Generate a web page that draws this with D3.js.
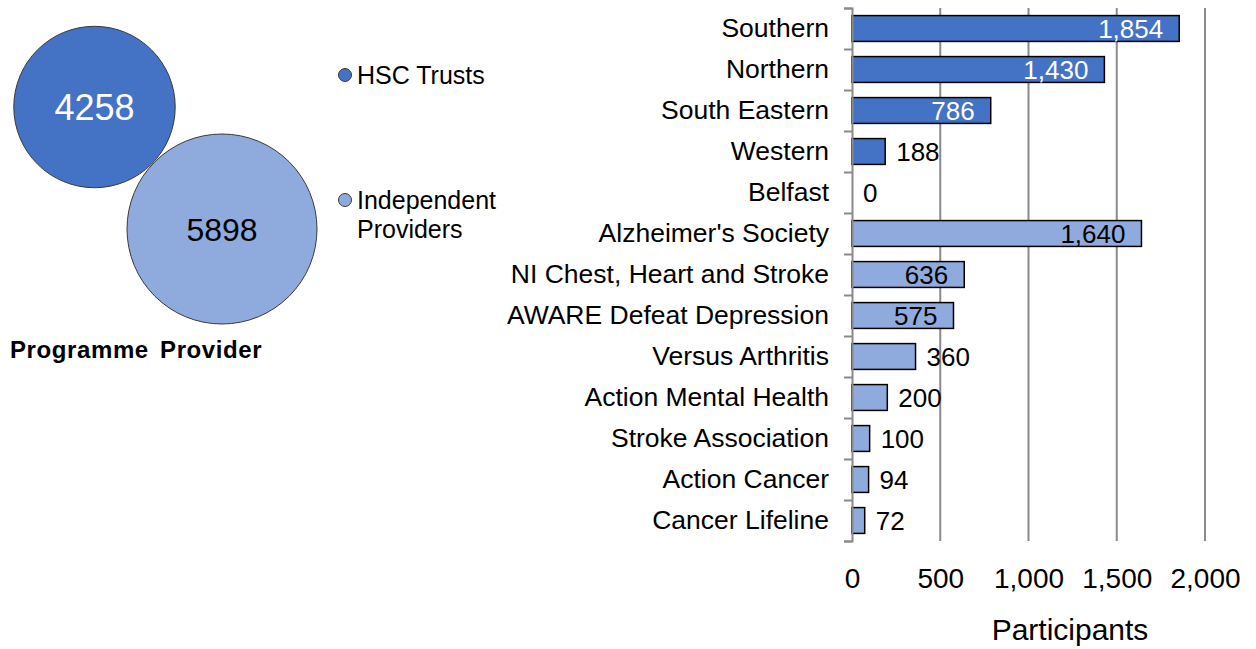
<!DOCTYPE html>
<html>
<head>
<meta charset="utf-8">
<script src="https://cdn.jsdelivr.net/npm/d3@7"></script>
<style>
  body { margin: 0; background: #fff; }
  svg text { font-family: "Liberation Sans", Arial, sans-serif; fill: #000; }
</style>
</head>
<body>
<div id="chart"></div>
<script>
// provider totals (bubbles)
const providers = ["HSC Trusts", "Independent Providers"];
const providerTotals = [4258, 5898];
const legendLines = [["HSC Trusts"], ["Independent", "Providers"]];

// participants per organisation (bars)
const organisations = [
  "Southern", "Northern", "South Eastern", "Western", "Belfast",
  "Alzheimer's Society", "NI Chest, Heart and Stroke", "AWARE Defeat Depression",
  "Versus Arthritis", "Action Mental Health", "Stroke Association",
  "Action Cancer", "Cancer Lifeline"
];
const participants = [1854, 1430, 786, 188, 0, 1640, 636, 575, 360, 200, 100, 94, 72];
const orgProvider = [
  "HSC Trusts", "HSC Trusts", "HSC Trusts", "HSC Trusts", "HSC Trusts",
  "Independent Providers", "Independent Providers", "Independent Providers",
  "Independent Providers", "Independent Providers", "Independent Providers",
  "Independent Providers", "Independent Providers"
];
const xTicks = [0, 500, 1000, 1500, 2000];

const width = 1256, height = 649;
const colour = d3.scaleOrdinal().domain(providers).range(["#4472c4", "#8faadc"]);
const fmt = d3.format(",");

const svg = d3.select("#chart").append("svg")
    .attr("width", width)
    .attr("height", height);

// ---- bubbles ----
const r = d3.scaleSqrt().domain([0, d3.max(providerTotals)]).range([0, 95]);
const bubbleCentres = [[94.5, 107], [222, 229]];
const bubbleFont = [36, 32];

const bubbles = svg.append("g").selectAll("g")
    .data(providers)
  .enter().append("g")
    .attr("transform", (d, i) => `translate(${bubbleCentres[i][0]}, ${bubbleCentres[i][1]})`);

bubbles.append("circle")
    .attr("r", (d, i) => r(providerTotals[i]))
    .style("fill", d => colour(d))
    .style("stroke", "#3a3a3a")
    .style("stroke-width", 1);

bubbles.append("text")
    .attr("text-anchor", "middle")
    .attr("dy", "0.36em")
    .style("font-size", (d, i) => bubbleFont[i] + "px")
    .style("fill", (d, i) => i === 0 ? "#fff" : "#000")
    .text((d, i) => providerTotals[i]);

svg.append("text")
    .attr("x", 10)
    .attr("y", 358)
    .style("font-size", "24px")
    .style("font-weight", "bold")
    .style("letter-spacing", "0.6px")
    .style("word-spacing", "4px")
    .text("Programme Provider");

// ---- legend ----
const legend = svg.append("g").selectAll("g")
    .data(providers)
  .enter().append("g")
    .attr("transform", (d, i) => `translate(345, ${i === 0 ? 75 : 200})`);

legend.append("circle")
    .attr("r", 6.5)
    .style("fill", d => colour(d))
    .style("stroke", "#3a3a3a")
    .style("stroke-width", 1);

legend.append("text")
    .attr("y", 9)
    .style("font-size", "25px")
    .each(function(d, i) {
      d3.select(this).selectAll("tspan")
          .data(legendLines[i])
        .enter().append("tspan")
          .attr("x", 12)
          .attr("dy", (w, j) => j === 0 ? 0 : 29)
          .text(w => w);
    });

// ---- bar chart ----
const plot = {left: 852, right: 1205, top: 8, bottom: 541};

const x = d3.scaleLinear()
    .domain([0, 2000])
    .range([plot.left, plot.right]);

const y = d3.scaleBand()
    .domain(organisations)
    .range([plot.top, plot.bottom])
    .paddingInner(0.37)
    .paddingOuter(0.185);

// gridlines
svg.append("g")
    .selectAll("line")
    .data(xTicks.slice(1))
  .enter().append("line")
    .attr("x1", d => x(d))
    .attr("x2", d => x(d))
    .attr("y1", plot.top)
    .attr("y2", plot.bottom)
    .style("stroke", "#8a8a8a")
    .style("stroke-width", 2);

// x tick labels
const xAxis = d3.axisBottom(x)
    .tickValues(xTicks)
    .tickFormat(fmt)
    .tickSize(0)
    .tickPadding(27);

const gx = svg.append("g")
    .attr("transform", `translate(0, ${plot.bottom})`)
    .call(xAxis);
gx.select(".domain").remove();
gx.selectAll("text").style("font-size", "28px").style("fill", "#000");

svg.append("text")
    .attr("x", 1070)
    .attr("y", 640)
    .attr("text-anchor", "middle")
    .style("font-size", "30px")
    .text("Participants");

// bars
svg.selectAll(".bar")
    .data(organisations)
  .enter().append("rect")
    .attr("class", "bar")
    .attr("x", x(0))
    .attr("y", d => y(d))
    .attr("width", (d, i) => x(participants[i]) - x(0))
    .attr("height", y.bandwidth())
    .style("fill", (d, i) => colour(orgProvider[i]))
    .style("stroke", (d, i) => participants[i] > 0 ? "#000" : "none")
    .style("stroke-width", 1.5);

// y axis: category boundary ticks + labels
const yBounds = d3.scaleLinear().domain([0, organisations.length]).range([plot.top, plot.bottom]);
const gb = svg.append("g")
    .attr("transform", `translate(${plot.left}, 0)`)
    .call(d3.axisLeft(yBounds).ticks(organisations.length).tickFormat("").tickSizeOuter(0).tickSize(8));
gb.selectAll("line, path").style("stroke", "#8a8a8a").style("stroke-width", 2);

const gy = svg.append("g")
    .attr("transform", `translate(${plot.left}, 0)`)
    .call(d3.axisLeft(y).tickSize(0).tickPadding(23));
gy.select(".domain").remove();
gy.selectAll("text").style("font-size", "26.5px").style("fill", "#000");

// value labels
svg.selectAll(".value")
    .data(organisations)
  .enter().append("text")
    .attr("class", "value")
    .attr("y", d => y(d) + y.bandwidth() / 2)
    .attr("dy", "0.36em")
    .style("font-size", "26px")
    .each(function(d, i) {
      const v = participants[i];
      const inside = v >= 500;
      d3.select(this)
          .attr("x", inside ? x(v) - 16 : x(v) + 11)
          .attr("text-anchor", inside ? "end" : "start")
          .style("fill", inside && orgProvider[i] === "HSC Trusts" ? "#fff" : "#000")
          .text(fmt(v));
    });
</script>
</body>
</html>
